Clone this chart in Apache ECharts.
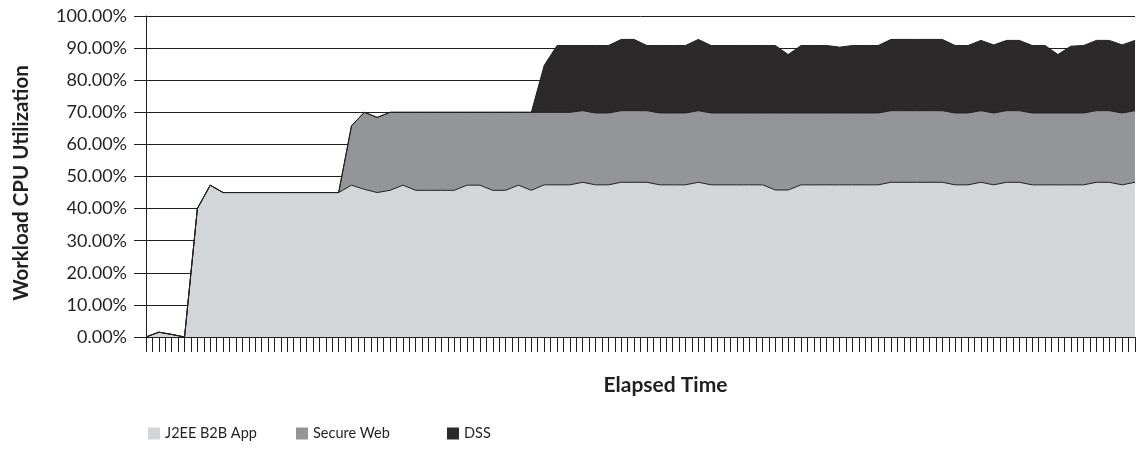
<!DOCTYPE html>
<html>
<head>
<meta charset="utf-8">
<script src="https://cdn.jsdelivr.net/npm/echarts@6/dist/echarts.min.js"></script>
<style>
html,body{margin:0;padding:0;background:#fff;}
#chart{width:1137px;height:450px;}
</style>
</head>
<body>
<div id="chart"></div>
<script>
// Workload CPU utilization (%) per sample, stacked
const j2ee = [0, 1.5, 0.8, 0, 40, 47.3,
  45, 45, 45, 45, 45, 45, 45, 45, 45, 45,
  47.3, 46, 45, 45.7, 47.3, 45.7, 45.7, 45.7, 45.7, 47.3, 47.3, 45.7, 45.7, 47.3, 45.7,
  47.4, 47.4, 47.4, 48.2, 47.4, 47.4, 48.2, 48.2, 48.2, 47.4, 47.4, 47.4, 48.2, 47.4, 47.4, 47.4, 47.4, 47.4,
  45.8, 45.8,
  47.4, 47.4, 47.4, 47.4, 47.4, 47.4, 47.4,
  48.2, 48.2, 48.2, 48.2, 48.2,
  47.4, 47.4, 48.2, 47.4, 48.2, 48.2, 47.4, 47.4, 47.4, 47.4, 47.4, 48.2, 48.2, 47.4, 48.2];
const secureWeb = [0, 0, 0, 0, 0, 0, 0, 0, 0, 0, 0, 0, 0, 0, 0, 0,
  18.5, 24, 23.4, 24.3, 22.7, 24.3, 24.3, 24.3, 24.3, 22.7, 22.7, 24.3, 24.3, 22.7, 24.3,
  22.6, 22.6, 22.6, 22.3, 22.4, 22.4, 22.3, 22.3, 22.3, 22.4, 22.4, 22.4, 22.3, 22.4, 22.4, 22.4, 22.4, 22.4,
  24, 24,
  22.4, 22.4, 22.4, 22.4, 22.4, 22.4, 22.4,
  22.3, 22.3, 22.3, 22.3, 22.3,
  22.4, 22.4, 22.3, 22.4, 22.3, 22.3, 22.4, 22.4, 22.4, 22.4, 22.4, 22.3, 22.3, 22.4, 22.3];
const dss = [0, 0, 0, 0, 0, 0, 0, 0, 0, 0, 0, 0, 0, 0, 0, 0, 0, 0, 0, 0, 0, 0, 0, 0, 0, 0, 0, 0, 0, 0, 0,
  14.6, 20.8, 20.8, 20.3, 21, 21, 22.2, 22.2, 20.3, 21, 21, 21, 22.2, 21, 21, 21, 21, 21,
  21, 18.2,
  21, 21, 21, 20.5, 21, 21, 21,
  22.2, 22.2, 22.2, 22.2, 22.2,
  21, 21, 21.9, 21.2, 21.9, 21.9, 21, 21, 18.2, 20.8, 21, 21.9, 21.9, 21.2, 21.9];
const seriesNames = ['J2EE B2B App', 'Secure Web', 'DSS'];
const yTicks = [0, 10, 20, 30, 40, 50, 60, 70, 80, 90, 100];
const yTitle = 'Workload CPU Utilization';
const xTitle = 'Elapsed Time';
const tickCount = 155; // unlabeled time tick marks on the x axis

const samples = j2ee.map((_, i) => String(i + 1));
const tickCats = Array.from({length: tickCount}, (_, i) => 't' + i);

const ink = '#231f20';
const font = 'Lato';
const fills = ['#d3d6d8', '#939598', '#2b292a'];
const values = [j2ee, secureWeb, dss];

const chart = echarts.init(document.getElementById('chart'), null, {renderer: 'canvas'});
const legendLefts = [143, 291, 442];

chart.setOption({
  animation: false,
  backgroundColor: '#fff',
  textStyle: {fontFamily: font, color: ink},
  grid: {left: 146, right: 2, top: 16, bottom: 113, containLabel: false},
  graphic: [{
    type: 'text', x: 21, y: 183, rotation: Math.PI / 2,
    style: {text: yTitle, fill: ink, font: 'bold 20.5px Lato', align: 'center', verticalAlign: 'middle'}
  }],
  legend: seriesNames.map((n, i) => ({
    data: [n], left: legendLefts[i], top: 421, icon: 'rect',
    itemWidth: 12, itemHeight: 12, itemGap: 0,
    textStyle: {fontFamily: font, fontSize: 14.5, color: ink},
    itemStyle: {borderWidth: 0}
  })),
  xAxis: [{
    type: 'category', data: samples, boundaryGap: false, position: 'bottom',
    axisLine: {show: true, lineStyle: {color: ink, width: 1}},
    axisTick: {show: false}, axisLabel: {show: false}, splitLine: {show: false},
    name: xTitle, nameLocation: 'middle', nameGap: 38,
    nameTextStyle: {fontFamily: font, fontSize: 21, fontWeight: 'bold', color: ink,
      padding: [0, 0, 0, 50]}
  }, {
    type: 'category', data: tickCats, boundaryGap: false, position: 'bottom',
    axisLine: {show: false},
    axisTick: {show: true, interval: 0, length: 15, lineStyle: {color: ink, width: 1}},
    axisLabel: {show: false}, splitLine: {show: false}
  }],
  yAxis: {
    type: 'value', min: yTicks[0], max: yTicks[yTicks.length - 1], interval: 10,
    axisLine: {show: true, lineStyle: {color: ink, width: 1}},
    axisTick: {show: true, length: 12, lineStyle: {color: ink, width: 1}},
    axisLabel: {margin: 19, fontSize: 18, color: ink, fontFamily: font,
      formatter: v => v.toFixed(2) + '%'},
    splitLine: {show: true, lineStyle: {color: ink, width: 1}}
  },
  series: seriesNames.map((n, i) => ({
    name: n, type: 'line', stack: 'cpu', data: values[i],
    xAxisIndex: 0, symbol: 'none', showSymbol: false,
    color: fills[i],
    itemStyle: {color: fills[i]},
    lineStyle: {color: ink, width: 1},
    areaStyle: {color: fills[i], opacity: 1}
  }))
});
</script>
</body>
</html>
